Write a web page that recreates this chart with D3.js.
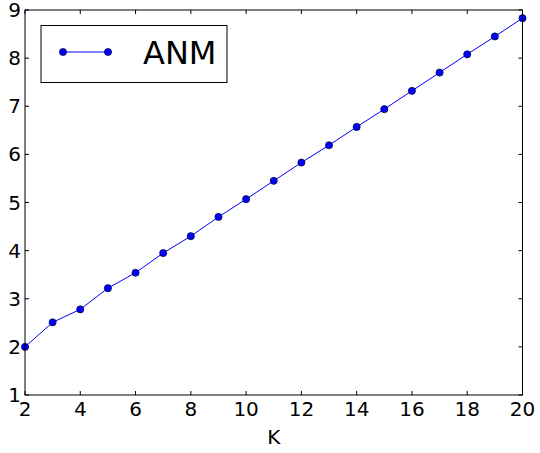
<!DOCTYPE html>
<html><head><meta charset="utf-8">
<script src="https://cdn.jsdelivr.net/npm/d3@7"></script>
<style>body{margin:0;background:#fff}svg{display:block}text{font-family:"DejaVu Sans",sans-serif}</style>
</head><body><svg id="c" width="540" height="453"></svg>
<script>
const kValues = [2,3,4,5,6,7,8,9,10,11,12,13,14,15,16,17,18,19,20];
const anmValues = [2.0,2.51,2.78,3.22,3.54,3.95,4.30,4.70,5.07,5.45,5.83,6.19,6.57,6.94,7.32,7.70,8.08,8.45,8.83];
const xTicks = [2,4,6,8,10,12,14,16,18,20];
const yTicks = [1,2,3,4,5,6,7,8,9];
const seriesName = "ANM";
const xLabel = "K";

const svg = d3.select("#c");
const L=25, R=522.5, T=10, B=395;
const x = d3.scaleLinear().domain([2,20]).range([L,R]);
const y = d3.scaleLinear().domain([1,9]).range([B,T]);

// ticks inside, all four sides
const tl = 4;
const g = svg.append("g");
xTicks.forEach(t=>{
  g.append("line").attr("x1",x(t)).attr("x2",x(t)).attr("y1",B).attr("y2",B-tl).attr("stroke","#000");
  g.append("line").attr("x1",x(t)).attr("x2",x(t)).attr("y1",T).attr("y2",T+tl).attr("stroke","#000");
  g.append("text").attr("x",x(t)).attr("y",B+21).attr("text-anchor","middle").attr("font-size",20).text(t);
});
yTicks.forEach(t=>{
  g.append("line").attr("x1",L).attr("x2",L+tl).attr("y1",y(t)).attr("y2",y(t)).attr("stroke","#000");
  g.append("line").attr("x1",R).attr("x2",R-tl).attr("y1",y(t)).attr("y2",y(t)).attr("stroke","#000");
  g.append("text").attr("x",L-4).attr("y",y(t)+7).attr("text-anchor","end").attr("font-size",20).text(t);
});

const clip = svg.append("clipPath").attr("id","cl").append("rect").attr("x",L).attr("y",T).attr("width",R-L).attr("height",B-T);
const data = kValues.map((k,i)=>({k,v:anmValues[i]}));
svg.append("path").datum(data).attr("fill","none").attr("stroke","#0000ff").attr("stroke-width",1)
  .attr("d",d3.line().x(d=>x(d.k)).y(d=>y(d.v)));
svg.append("g").selectAll("circle").data(data).join("circle")
  .attr("cx",d=>x(d.k)).attr("cy",d=>y(d.v)).attr("r",3.6)
  .attr("fill","#0000ff").attr("stroke","#000").attr("stroke-width",0.6);

svg.append("rect").attr("x",L).attr("y",T).attr("width",R-L).attr("height",B-T)
  .attr("fill","none").attr("stroke","#000").attr("stroke-width",1);

svg.append("text").attr("x",(L+R)/2).attr("y",444).attr("text-anchor","middle").attr("font-size",20).text(xLabel);

// legend
const lg = svg.append("g");
lg.append("rect").attr("x",41).attr("y",25.5).attr("width",186).attr("height",57).attr("fill","#fff").attr("stroke","#000").attr("stroke-width",1);
lg.append("line").attr("x1",63).attr("x2",108).attr("y1",52).attr("y2",52).attr("stroke","#0000ff");
[63,108].forEach(cx=>lg.append("circle").attr("cx",cx).attr("cy",52).attr("r",3.6).attr("fill","#0000ff").attr("stroke","#000").attr("stroke-width",0.6));
lg.append("text").attr("x",143).attr("y",63.5).attr("font-size",32).text(seriesName);
</script></body></html>
